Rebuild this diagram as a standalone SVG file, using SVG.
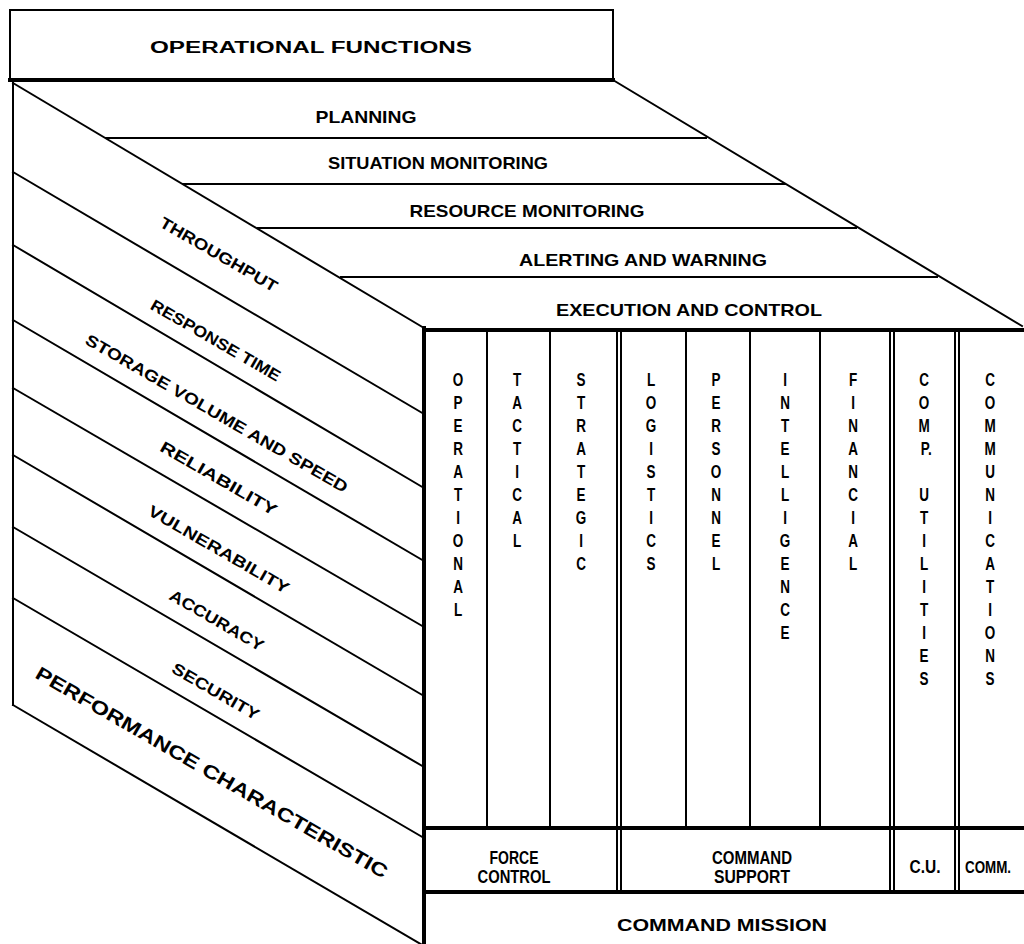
<svg xmlns="http://www.w3.org/2000/svg" width="1024" height="944" viewBox="0 0 1024 944">
  <style>
    .ln { stroke: #000; stroke-width: 2; fill: none; stroke-linecap: square; }
    .thk { stroke: #000; stroke-width: 4; fill: none; stroke-linecap: square; }
    .t { font-family: "Liberation Sans", Arial, sans-serif; font-weight: bold; fill: #000; text-anchor: middle; }
    .band { font-size: 17px; }
    .side { font-size: 16px; }
    .perf { font-size: 19px; }
    .col { font-size: 18px; }
    .grp { font-size: 18px; }
    .small { font-size: 17px; }
    .head { font-size: 16px; }
  </style>
  <rect width="1024" height="944" fill="#fff"/>

  <!-- Top label box -->
  <g id="operational-functions">
    <rect class="ln" x="10" y="10" width="603" height="70"/>
    <line class="thk" x1="10" y1="80" x2="613" y2="80"/>
    <text class="t head" x="311" y="53" textLength="322" lengthAdjust="spacingAndGlyphs">OPERATIONAL FUNCTIONS</text>
  </g>

  <!-- Outline and dividing lines of the block -->
  <g id="connectors">
    <!-- left face -->
    <line class="ln" x1="13" y1="80" x2="13" y2="705"/>
    <line class="ln" x1="13" y1="83" x2="424" y2="328"/>
    <line class="ln" x1="13" y1="172" x2="424" y2="414"/>
    <line class="ln" x1="13" y1="245" x2="424" y2="488"/>
    <line class="ln" x1="13" y1="320" x2="424" y2="561"/>
    <line class="ln" x1="13" y1="388" x2="424" y2="627"/>
    <line class="ln" x1="13" y1="455" x2="424" y2="696"/>
    <line class="ln" x1="13" y1="527" x2="424" y2="767"/>
    <line class="ln" x1="13" y1="598" x2="424" y2="838"/>
    <line class="ln" x1="13" y1="705" x2="424" y2="946"/>
    <!-- top face -->
    <line class="ln" x1="613" y1="80" x2="1022" y2="326"/>
    <line class="ln" x1="106" y1="138" x2="706" y2="138"/>
    <line class="ln" x1="183" y1="184" x2="785" y2="184"/>
    <line class="ln" x1="258" y1="228" x2="856" y2="228"/>
    <line class="ln" x1="341" y1="277" x2="937" y2="277"/>
    <!-- front face -->
    <line class="thk" x1="424" y1="330" x2="1024" y2="330"/>
    <line class="thk" x1="424" y1="328" x2="424" y2="944"/>
    <line class="ln" x1="487" y1="330" x2="487" y2="828"/>
    <line class="ln" x1="550" y1="330" x2="550" y2="828"/>
    <line class="ln" x1="617" y1="330" x2="617" y2="892"/>
    <line class="ln" x1="621" y1="330" x2="621" y2="892"/>
    <line class="ln" x1="686" y1="330" x2="686" y2="828"/>
    <line class="ln" x1="750" y1="330" x2="750" y2="828"/>
    <line class="ln" x1="820" y1="330" x2="820" y2="828"/>
    <line class="ln" x1="890" y1="330" x2="890" y2="892"/>
    <line class="ln" x1="894" y1="330" x2="894" y2="892"/>
    <line class="ln" x1="955" y1="330" x2="955" y2="892"/>
    <line class="ln" x1="959" y1="330" x2="959" y2="892"/>
    <line class="thk" x1="424" y1="828" x2="1024" y2="828"/>
    <line class="thk" x1="424" y1="892" x2="1024" y2="892"/>
  </g>

  <!-- Operational function bands on top face -->
  <g id="planning"><text class="t band" x="366" y="123" textLength="101" lengthAdjust="spacingAndGlyphs">PLANNING</text></g>
  <g id="situation-monitoring"><text class="t band" x="438" y="169" textLength="220" lengthAdjust="spacingAndGlyphs">SITUATION MONITORING</text></g>
  <g id="resource-monitoring"><text class="t band" x="527" y="217" textLength="235" lengthAdjust="spacingAndGlyphs">RESOURCE MONITORING</text></g>
  <g id="alerting-and-warning"><text class="t band" x="643" y="266" textLength="248" lengthAdjust="spacingAndGlyphs">ALERTING AND WARNING</text></g>
  <g id="execution-and-control"><text class="t band" x="689" y="316" textLength="266" lengthAdjust="spacingAndGlyphs">EXECUTION AND CONTROL</text></g>

  <!-- Performance characteristics on left face -->
  <g id="throughput"><text class="t side" transform="translate(219,254) rotate(30)" dy="6" textLength="133" lengthAdjust="spacingAndGlyphs">THROUGHPUT</text></g>
  <g id="response-time"><text class="t side" transform="translate(216,340) rotate(30)" dy="6" textLength="147" lengthAdjust="spacingAndGlyphs">RESPONSE TIME</text></g>
  <g id="storage-volume-and-speed"><text class="t side" transform="translate(217,413) rotate(30)" dy="6" textLength="300" lengthAdjust="spacingAndGlyphs">STORAGE VOLUME AND SPEED</text></g>
  <g id="reliability"><text class="t side" transform="translate(219,478) rotate(30)" dy="6" textLength="132" lengthAdjust="spacingAndGlyphs">RELIABILITY</text></g>
  <g id="vulnerability"><text class="t side" transform="translate(219,549) rotate(30)" dy="6" textLength="160" lengthAdjust="spacingAndGlyphs">VULNERABILITY</text></g>
  <g id="accuracy"><text class="t side" transform="translate(217,620) rotate(30)" dy="6" textLength="106" lengthAdjust="spacingAndGlyphs">ACCURACY</text></g>
  <g id="security"><text class="t side" transform="translate(216,691) rotate(30)" dy="6" textLength="98" lengthAdjust="spacingAndGlyphs">SECURITY</text></g>
  <g id="performance-characteristic"><text class="t perf" transform="translate(212,772) rotate(30)" dy="7" textLength="403" lengthAdjust="spacingAndGlyphs">PERFORMANCE CHARACTERISTIC</text></g>

  <!-- Command mission columns (vertical lettering, condensed) -->
  <g id="operational">
    <text class="t col" transform="translate(458,386) scale(0.75,1)"><tspan x="0">O</tspan><tspan x="0" dy="23">P</tspan><tspan x="0" dy="23">E</tspan><tspan x="0" dy="23">R</tspan><tspan x="0" dy="23">A</tspan><tspan x="0" dy="23">T</tspan><tspan x="0" dy="23">I</tspan><tspan x="0" dy="23">O</tspan><tspan x="0" dy="23">N</tspan><tspan x="0" dy="23">A</tspan><tspan x="0" dy="23">L</tspan></text>
  </g>
  <g id="tactical">
    <text class="t col" transform="translate(517,386) scale(0.75,1)"><tspan x="0">T</tspan><tspan x="0" dy="23">A</tspan><tspan x="0" dy="23">C</tspan><tspan x="0" dy="23">T</tspan><tspan x="0" dy="23">I</tspan><tspan x="0" dy="23">C</tspan><tspan x="0" dy="23">A</tspan><tspan x="0" dy="23">L</tspan></text>
  </g>
  <g id="strategic">
    <text class="t col" transform="translate(581,386) scale(0.75,1)"><tspan x="0">S</tspan><tspan x="0" dy="23">T</tspan><tspan x="0" dy="23">R</tspan><tspan x="0" dy="23">A</tspan><tspan x="0" dy="23">T</tspan><tspan x="0" dy="23">E</tspan><tspan x="0" dy="23">G</tspan><tspan x="0" dy="23">I</tspan><tspan x="0" dy="23">C</tspan></text>
  </g>
  <g id="logistics">
    <text class="t col" transform="translate(651,386) scale(0.75,1)"><tspan x="0">L</tspan><tspan x="0" dy="23">O</tspan><tspan x="0" dy="23">G</tspan><tspan x="0" dy="23">I</tspan><tspan x="0" dy="23">S</tspan><tspan x="0" dy="23">T</tspan><tspan x="0" dy="23">I</tspan><tspan x="0" dy="23">C</tspan><tspan x="0" dy="23">S</tspan></text>
  </g>
  <g id="personnel">
    <text class="t col" transform="translate(716,386) scale(0.75,1)"><tspan x="0">P</tspan><tspan x="0" dy="23">E</tspan><tspan x="0" dy="23">R</tspan><tspan x="0" dy="23">S</tspan><tspan x="0" dy="23">O</tspan><tspan x="0" dy="23">N</tspan><tspan x="0" dy="23">N</tspan><tspan x="0" dy="23">E</tspan><tspan x="0" dy="23">L</tspan></text>
  </g>
  <g id="intelligence">
    <text class="t col" transform="translate(785,386) scale(0.75,1)"><tspan x="0">I</tspan><tspan x="0" dy="23">N</tspan><tspan x="0" dy="23">T</tspan><tspan x="0" dy="23">E</tspan><tspan x="0" dy="23">L</tspan><tspan x="0" dy="23">L</tspan><tspan x="0" dy="23">I</tspan><tspan x="0" dy="23">G</tspan><tspan x="0" dy="23">E</tspan><tspan x="0" dy="23">N</tspan><tspan x="0" dy="23">C</tspan><tspan x="0" dy="23">E</tspan></text>
  </g>
  <g id="financial">
    <text class="t col" transform="translate(853,386) scale(0.75,1)"><tspan x="0">F</tspan><tspan x="0" dy="23">I</tspan><tspan x="0" dy="23">N</tspan><tspan x="0" dy="23">A</tspan><tspan x="0" dy="23">N</tspan><tspan x="0" dy="23">C</tspan><tspan x="0" dy="23">I</tspan><tspan x="0" dy="23">A</tspan><tspan x="0" dy="23">L</tspan></text>
  </g>
  <g id="comp-utilities">
    <text class="t col" transform="translate(924,386) scale(0.75,1)"><tspan x="0">C</tspan><tspan x="0" dy="23">O</tspan><tspan x="0" dy="23">M</tspan><tspan x="3" dy="23">P.</tspan><tspan x="0" dy="46">U</tspan><tspan x="0" dy="23">T</tspan><tspan x="0" dy="23">I</tspan><tspan x="0" dy="23">L</tspan><tspan x="0" dy="23">I</tspan><tspan x="0" dy="23">T</tspan><tspan x="0" dy="23">I</tspan><tspan x="0" dy="23">E</tspan><tspan x="0" dy="23">S</tspan></text>
  </g>
  <g id="communications">
    <text class="t col" transform="translate(990,386) scale(0.75,1)"><tspan x="0">C</tspan><tspan x="0" dy="23">O</tspan><tspan x="0" dy="23">M</tspan><tspan x="0" dy="23">M</tspan><tspan x="0" dy="23">U</tspan><tspan x="0" dy="23">N</tspan><tspan x="0" dy="23">I</tspan><tspan x="0" dy="23">C</tspan><tspan x="0" dy="23">A</tspan><tspan x="0" dy="23">T</tspan><tspan x="0" dy="23">I</tspan><tspan x="0" dy="23">O</tspan><tspan x="0" dy="23">N</tspan><tspan x="0" dy="23">S</tspan></text>
  </g>

  <!-- Mission groupings -->
  <g id="force-control">
    <text class="t grp" x="514" y="864" textLength="49" lengthAdjust="spacingAndGlyphs">FORCE</text>
    <text class="t grp" x="514" y="883" textLength="73" lengthAdjust="spacingAndGlyphs">CONTROL</text>
  </g>
  <g id="command-support">
    <text class="t grp" x="752" y="864" textLength="80" lengthAdjust="spacingAndGlyphs">COMMAND</text>
    <text class="t grp" x="752" y="883" textLength="76" lengthAdjust="spacingAndGlyphs">SUPPORT</text>
  </g>
  <g id="cu"><text class="t grp" x="925" y="873" textLength="31" lengthAdjust="spacingAndGlyphs">C.U.</text></g>
  <g id="comm"><text class="t small" x="988" y="873" textLength="46" lengthAdjust="spacingAndGlyphs">COMM.</text></g>
  <g id="command-mission"><text class="t head" x="722" y="931" textLength="210" lengthAdjust="spacingAndGlyphs">COMMAND MISSION</text></g>
</svg>
